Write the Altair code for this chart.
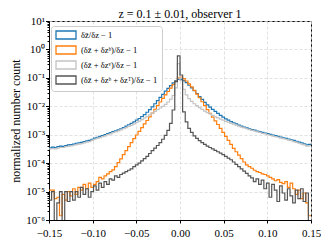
import altair as alt
import numpy as np
import pandas as pd

# bin edges of the histograms (100 bins from -0.15 to 0.15)
BIN_EDGES = np.round(np.linspace(-0.15, 0.15, 101), 4)

SERIES = [
    "δz\u0304/δz − 1",
    "(δz\u0304 + δzᵇ)/δz − 1",
    "(δz\u0304 + δzᵛ)/δz − 1",
    "(δz\u0304 + δzᵇ + δzᵀ)/δz − 1",
]
COLORS = ["#1f77b4", "#ff7f0e", "#c4c4c4", "#555555"]

# log10 of normalized number count per bin (-9 = empty bin)
LOG_BLUE = [
    -3.46, -3.44, -3.45, -3.42, -3.40, -3.41, -3.38, -3.36, -3.35, -3.33,
    -3.30, -3.29, -3.27, -3.24, -3.22, -3.20, -3.16, -3.12, -3.09, -3.06,
    -3.03, -3.00, -2.96, -2.93, -2.89, -2.86, -2.83, -2.79, -2.75, -2.70,
    -2.65, -2.60, -2.55, -2.49, -2.43, -2.36, -2.29, -2.21, -2.12, -2.02,
    -1.91, -1.80, -1.69, -1.58, -1.47, -1.37, -1.27, -1.18, -1.10, -1.05,
    -1.05, -1.10, -1.17, -1.26, -1.35, -1.45, -1.55, -1.66, -1.76, -1.86,
    -1.95, -2.03, -2.11, -2.18, -2.25, -2.32, -2.38, -2.44, -2.49, -2.54,
    -2.58, -2.62, -2.66, -2.70, -2.73, -2.76, -2.79, -2.82, -2.84, -2.87,
    -2.89, -2.92, -2.94, -2.96, -2.99, -3.01, -3.03, -3.06, -3.08, -3.11,
    -3.13, -3.15, -3.18, -3.20, -3.23, -3.26, -3.29, -3.32, -3.36, -3.34,
]
LOG_ORANGE = [
    -4.95, -4.95, -5.25, -5.20, -5.85, -5.10, -5.30, -5.00, -5.15, -4.90,
    -5.10, -4.85, -4.95, -4.75, -4.90, -4.70, -4.85, -4.75, -4.65, -4.50,
    -4.55, -4.45, -4.38, -4.30, -4.24, -4.12, -3.98, -3.85, -3.70, -3.56,
    -3.42, -3.28, -3.14, -3.01, -2.88, -2.75, -2.62, -2.50, -2.37, -2.24,
    -2.11, -1.98, -1.85, -1.72, -1.60, -1.48, -1.36, -1.24, -1.12, -1.00,
    -0.97, -1.03, -1.11, -1.21, -1.32, -1.44, -1.57, -1.70, -1.84, -1.98,
    -2.12, -2.25, -2.38, -2.51, -2.64, -2.78, -2.92, -3.06, -3.20, -3.34,
    -3.48, -3.60, -3.72, -3.84, -3.96, -4.06, -4.12, -4.18, -4.25, -4.30,
    -4.33, -4.38, -4.40, -4.45, -4.50, -4.55, -4.62, -4.58, -4.68, -4.72,
    -4.65, -4.85, -4.70, -4.90, -5.10, -4.95, -5.25, -5.05, -5.40, -5.85,
]
LOG_LIGHT = [
    -3.50, -3.49, -3.50, -3.47, -3.45, -3.45, -3.42, -3.41, -3.39, -3.37,
    -3.35, -3.33, -3.31, -3.29, -3.26, -3.24, -3.20, -3.16, -3.13, -3.10,
    -3.07, -3.04, -3.00, -2.97, -2.93, -2.90, -2.87, -2.83, -2.79, -2.75,
    -2.71, -2.67, -2.62, -2.57, -2.52, -2.47, -2.41, -2.36, -2.30, -2.24,
    -2.18, -2.12, -2.06, -2.00, -1.93, -1.85, -1.75, -1.62, -1.35, -0.50,
    -1.10, -1.40, -1.60, -1.73, -1.83, -1.91, -1.98, -2.05, -2.11, -2.17,
    -2.22, -2.27, -2.32, -2.37, -2.41, -2.45, -2.49, -2.53, -2.56, -2.60,
    -2.63, -2.66, -2.70, -2.73, -2.76, -2.79, -2.82, -2.85, -2.87, -2.90,
    -2.92, -2.95, -2.97, -3.00, -3.02, -3.05, -3.07, -3.09, -3.12, -3.14,
    -3.16, -3.19, -3.21, -3.24, -3.27, -3.30, -3.33, -3.36, -3.40, -3.39,
]
LOG_DARK = [
    -5.30, -5.00, -9.00, -5.40, -5.00, -9.00, -5.00, -5.35, -5.00, -5.30,
    -5.00, -5.20, -4.85, -5.10, -4.90, -5.20, -5.00, -4.80, -4.95, -4.70,
    -4.85, -4.65, -4.75, -4.55, -4.60, -4.45, -4.50, -4.40, -4.35, -4.30,
    -4.25, -4.20, -4.12, -4.06, -4.00, -3.92, -3.84, -3.76, -3.66, -3.56,
    -3.47, -3.38, -3.28, -3.16, -3.02, -2.85, -2.60, -2.13, -1.13, -0.23,
    -0.90, -2.20, -2.55, -2.78, -2.92, -3.04, -3.13, -3.21, -3.28, -3.34,
    -3.40, -3.45, -3.50, -3.55, -3.60, -3.65, -3.70, -3.76, -3.82, -3.88,
    -3.96, -4.04, -4.12, -4.20, -4.28, -4.36, -4.45, -4.52, -4.65, -4.55,
    -4.75, -4.60, -4.90, -4.70, -5.20, -4.75, -4.95, -5.35, -4.80, -5.05,
    -5.30, -4.90, -5.15, -5.40, -4.95, -5.25, -4.90, -5.35, -5.05, -9.00,
]

X_TICKS = [-0.15, -0.10, -0.05, 0.0, 0.05, 0.10, 0.15]
Y_MAJOR = [1e-6, 1e-5, 1e-4, 1e-3, 1e-2, 1e-1, 1.0, 10.0]
Y_MINOR = [m * d for d in Y_MAJOR[:-1] for m in range(2, 10)]

rows = []
for idx, (name, logs) in enumerate(zip(SERIES, [LOG_BLUE, LOG_ORANGE, LOG_LIGHT, LOG_DARK])):
    for k in range(100):
        rows.append({"x": float(BIN_EDGES[k]), "y": 10.0 ** logs[k], "s": name, "o": idx})
    rows.append({"x": float(BIN_EDGES[100]), "y": 10.0 ** logs[-1], "s": name, "o": idx})
df = pd.DataFrame(rows)

SERIF = "Liberation Serif"
IS_DECADE = "abs(log(datum.value)/LN10 - round(log(datum.value)/LN10)) < 0.001"
LABEL_EXPR = (
    "(abs(log(datum.value)/LN10 - round(log(datum.value)/LN10)) > 0.001) ? '' : "
    "['10⁻⁶','10⁻⁵','10⁻⁴','10⁻³','10⁻²','10⁻¹','10⁰','10¹'][round(log(datum.value)/LN10)+6]"
)

chart = (
    alt.Chart(df)
    .mark_line(interpolate="step-after", clip=True, strokeWidth=1.2)
    .encode(
        x=alt.X(
            "x:Q",
            scale=alt.Scale(domain=[-0.15, 0.15], nice=False, zero=False),
            axis=alt.Axis(
                values=X_TICKS, format=".2f", title=None, grid=True,
                gridDash=[3, 2], gridColor="#d9d9d9", gridWidth=0.8,
                tickSize=3, labelPadding=4, labelFlush=False,
            ),
        ),
        y=alt.Y(
            "y:Q",
            scale=alt.Scale(type="log", domain=[1e-6, 10], nice=False),
            axis=alt.Axis(
                values=Y_MAJOR + Y_MINOR, labelExpr=LABEL_EXPR, labelOverlap=False,
                title="normalized number count", titleFont=SERIF, titleFontSize=12,
                titleFontWeight="normal", titlePadding=3,
                grid=True, gridDash=[3, 2], gridColor="#d9d9d9", gridWidth=0.8,
                gridOpacity={"condition": {"test": IS_DECADE, "value": 1}, "value": 0},
                tickSize={"condition": {"test": IS_DECADE, "value": 3.5}, "value": 2},
                labelPadding=1, labelFlush=False,
            ),
        ),
        color=alt.Color(
            "s:N",
            sort=SERIES,
            scale=alt.Scale(domain=SERIES, range=COLORS),
            legend=alt.Legend(
                title=None, orient="none", legendX=2, legendY=5,
                fillColor="white", strokeColor="#cccccc", cornerRadius=3, padding=4,
                symbolType="M-2.5,-1H2.5V1H-2.5Z", symbolSize=64, symbolStrokeWidth=1.3,
                symbolOffset=6, symbolFillColor="transparent",
                labelFont=SERIF, labelFontSize=8.5, labelOffset=10,
                rowPadding=1, labelLimit=0,
            ),
        ),
        detail="o:N",
    )
    .properties(
        width=262,
        height=199,
        title=alt.Title(
            "z = 0.1 ± 0.01, observer 1", font=SERIF, fontSize=12,
            fontWeight="normal", offset=0, baseline="alphabetic", dy=15,
        ),
        autosize=alt.AutoSizeParams(type="none"),
        padding={"left": 41, "top": 13, "right": 10, "bottom": 18},
    )
    .configure_view(stroke="black", strokeWidth=1)
    .configure_axis(
        domainColor="black", tickColor="black", labelColor="black",
        labelFont=SERIF, labelFontSize=11, domainWidth=1,
    )
)

chart.save("out.html", embed_options={"renderer": "svg", "actions": False})
